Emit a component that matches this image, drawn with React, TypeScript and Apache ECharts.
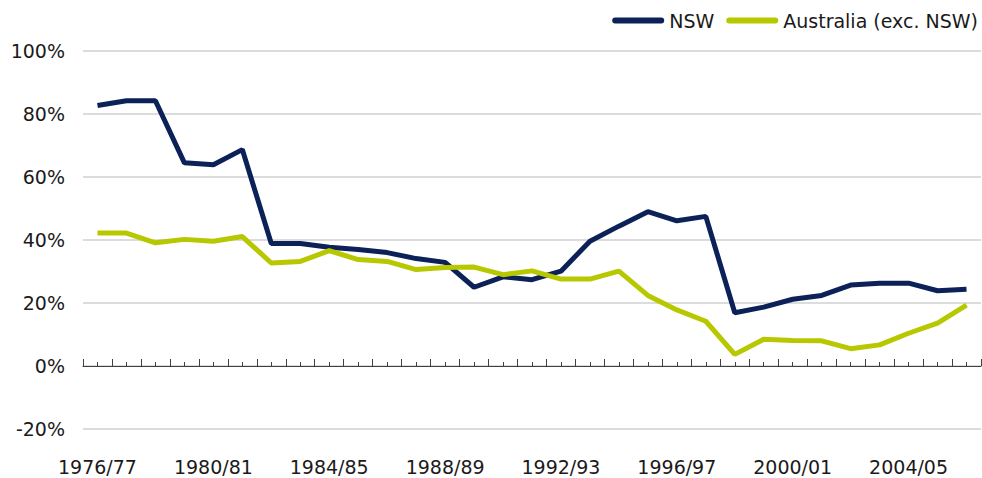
import React, { useEffect, useRef } from "react";
import * as echarts from "echarts";

const categories = [
  "1976/77", "1977/78", "1978/79", "1979/80", "1980/81", "1981/82", "1982/83", "1983/84",
  "1984/85", "1985/86", "1986/87", "1987/88", "1988/89", "1989/90", "1990/91", "1991/92",
  "1992/93", "1993/94", "1994/95", "1995/96", "1996/97", "1997/98", "1998/99", "1999/00",
  "2000/01", "2001/02", "2002/03", "2003/04", "2004/05", "2005/06", "2006/07",
];

const nswValues = [
  82.7, 84.2, 84.2, 64.5, 63.9, 68.7, 38.9, 38.9, 37.7, 37.0,
  36.0, 34.1, 32.9, 25.0, 28.3, 27.4, 30.1, 39.6, 44.4, 49.0,
  46.1, 47.5, 16.9, 18.7, 21.2, 22.4, 25.7, 26.3, 26.3, 23.9, 24.4,
];

const ausExNswValues = [
  42.2, 42.2, 39.1, 40.2, 39.6, 41.1, 32.7, 33.2, 36.6, 33.8,
  33.2, 30.6, 31.3, 31.4, 29.0, 30.2, 27.6, 27.6, 30.1, 22.4,
  17.8, 14.2, 3.7, 8.5, 8.1, 8.0, 5.5, 6.7, 10.4, 13.6, 19.3,
];

const seriesNames = ["NSW", "Australia (exc. NSW)"];
const yMin = -20;
const yMax = 100;
const yInterval = 20;

const FONT = "'DejaVu Sans', 'Open Sans', sans-serif";
const FONT_SIZE = 19;
const TEXT_COLOR = "#1a1a1a";
const NAVY = "#0b2157";
const GREEN = "#b7c800";

const W = 982;
const H = 478;
const GRID_TOP = 51;
const GRID_BOTTOM = 49;
const GRID_LEFT = 83;
const GRID_RIGHT = 1;

export default function App() {
  const ref = useRef<HTMLDivElement>(null);

  useEffect(() => {
    if (!ref.current) return;
    const chart = echarts.init(ref.current, undefined, { renderer: "svg" });
    const gridHeight = H - GRID_TOP - GRID_BOTTOM;
    const zeroOffset = -gridHeight * ((0 - yMin) / (yMax - yMin));
    const pill = "path://M3 0H49A3 3 0 0 1 49 6H3A3 3 0 0 1 3 0Z";

    chart.setOption({
      animation: false,
      backgroundColor: "#ffffff",
      textStyle: { fontFamily: FONT },
      legend: {
        top: 11,
        right: 4,
        padding: 0,
        itemGap: 12,
        itemWidth: 52,
        itemHeight: 6,
        textStyle: { fontFamily: FONT, fontSize: FONT_SIZE, color: TEXT_COLOR },
        data: [
          { name: seriesNames[0], icon: pill, itemStyle: { color: NAVY } },
          { name: seriesNames[1], icon: pill, itemStyle: { color: GREEN } },
        ],
      },
      grid: {
        top: GRID_TOP,
        bottom: GRID_BOTTOM,
        left: GRID_LEFT,
        right: GRID_RIGHT,
        containLabel: false,
      },
      xAxis: [
        {
          type: "category",
          data: categories,
          position: "bottom",
          offset: 0,
          axisLine: { show: false, onZero: false },
          axisTick: { show: false },
          axisLabel: {
            interval: 3,
            margin: 29,
            lineHeight: 18,
            fontFamily: FONT,
            fontSize: FONT_SIZE,
            color: TEXT_COLOR,
          },
          splitLine: { show: false },
        },
        {
          type: "category",
          data: categories,
          position: "bottom",
          offset: zeroOffset,
          axisLine: { show: true, onZero: false, lineStyle: { color: "#404040", width: 1 } },
          axisTick: {
            show: true,
            inside: true,
            length: 7,
            interval: 0,
            alignWithLabel: false,
            lineStyle: { color: "#404040", width: 1 },
          },
          axisLabel: { show: false },
          splitLine: { show: false },
        },
        {
          type: "category",
          data: categories,
          position: "bottom",
          offset: zeroOffset,
          axisLine: { show: false, onZero: false },
          axisTick: {
            show: true,
            inside: true,
            length: 4,
            interval: 0,
            alignWithLabel: true,
            lineStyle: { color: "#404040", width: 1 },
          },
          axisLabel: { show: false },
          splitLine: { show: false },
        },
      ],
      yAxis: {
        type: "value",
        min: yMin,
        max: yMax,
        interval: yInterval,
        axisLine: { show: false },
        axisTick: { show: false },
        axisLabel: {
          formatter: "{value}%",
          margin: 18,
          fontFamily: FONT,
          fontSize: FONT_SIZE,
          color: TEXT_COLOR,
        },
        splitLine: { show: true, lineStyle: { color: "#dcdcdc", width: 2 } },
      },
      series: [
        {
          name: seriesNames[0],
          type: "line",
          xAxisIndex: 0,
          data: nswValues,
          symbol: "none",
          showSymbol: false,
          lineStyle: { color: NAVY, width: 5 },
          itemStyle: { color: NAVY },
        },
        {
          name: seriesNames[1],
          type: "line",
          xAxisIndex: 0,
          data: ausExNswValues,
          symbol: "none",
          showSymbol: false,
          lineStyle: { color: GREEN, width: 5 },
          itemStyle: { color: GREEN },
        },
      ],
    });

    return () => chart.dispose();
  }, []);

  return (
    <div
      ref={ref}
      style={{ position: "absolute", left: 0, top: 0, width: W, height: H, background: "#fff" }}
    />
  );
}
